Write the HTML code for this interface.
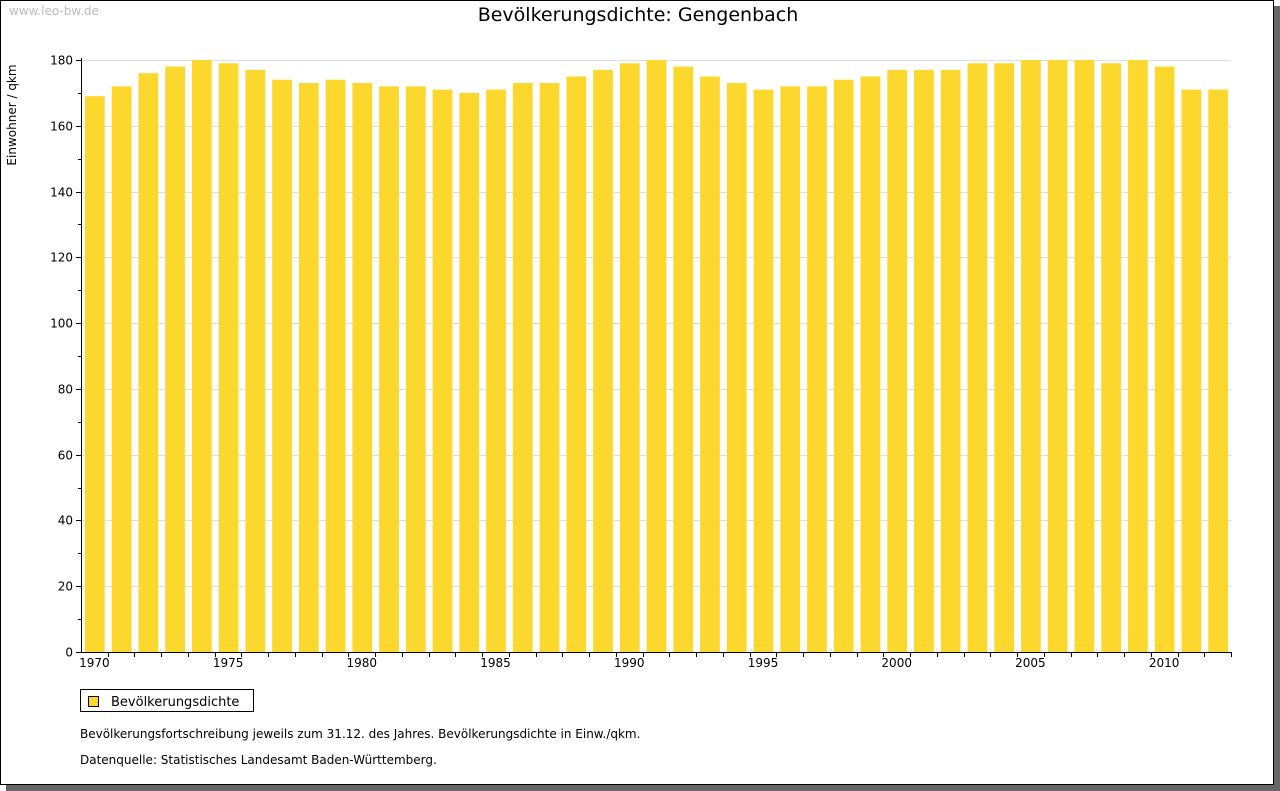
<!DOCTYPE html>
<html><head><meta charset="utf-8"><style>
body{margin:0;background:#fff;width:1280px;height:791px;overflow:hidden;font-family:"DejaVu Sans","Liberation Sans",sans-serif}
#frame{position:absolute;left:0;top:0;width:1272px;height:783px;border:1px solid #000;background:#fff;box-shadow:6px 6px 0 #666}
svg text{font-family:"DejaVu Sans","Liberation Sans",sans-serif}
</style></head><body>
<div id="frame">
<svg id="chart" width="1280" height="791" style="position:absolute;left:-1px;top:-1px">
<text x="9" y="15" font-size="12" fill="#bbb">www.leo-bw.de</text>
<text x="638" y="21" font-size="19" text-anchor="middle" fill="#000">Bevölkerungsdichte: Gengenbach</text>
<text transform="translate(16,115) rotate(-90)" font-size="12" text-anchor="middle">Einwohner / qkm</text>
<g id="grid"></g><g id="bars"></g><g id="axes"></g>
<g>
<rect x="80.5" y="689.5" width="173" height="22" fill="#fff" stroke="#000"/>
<rect x="88.5" y="696.5" width="10" height="10" fill="#fcd82e" stroke="#000"/>
<text x="111" y="706" font-size="13">Bevölkerungsdichte</text>
</g>
<text x="80" y="738" font-size="12">Bevölkerungsfortschreibung jeweils zum 31.12. des Jahres. Bevölkerungsdichte in Einw./qkm.</text>
<text x="80" y="764" font-size="12">Datenquelle: Statistisches Landesamt Baden-Württemberg.</text>
</svg></div>
<script>
const years=[1970,1971,1972,1973,1974,1975,1976,1977,1978,1979,1980,1981,1982,1983,1984,1985,1986,1987,1988,1989,1990,1991,1992,1993,1994,1995,1996,1997,1998,1999,2000,2001,2002,2003,2004,2005,2006,2007,2008,2009,2010,2011,2012];
const values=[169,172,176,178,180,179,177,174,173,174,173,172,172,171,170,171,173,173,175,177,179,180,178,175,173,171,172,172,174,175,177,177,177,179,179,180,180,180,179,180,178,171,171];
const yTicks=[0,20,40,60,80,100,120,140,160,180];
const xLabels=[1970,1975,1980,1985,1990,1995,2000,2005,2010];
const NS="http://www.w3.org/2000/svg";
const X0=81,X1=1231,Y0=652,Y1=60,YMAX=180;
const band=(X1-X0)/years.length;
const xs=i=>X0+i*band;
const ys=v=>Y0-(v/YMAX)*(Y0-Y1);
function mk(p,t,a){const e=document.createElementNS(NS,t);for(const k in a)e.setAttribute(k,a[k]);p.appendChild(e);return e;}
const grid=document.getElementById('grid'),bars=document.getElementById('bars'),axes=document.getElementById('axes');
yTicks.forEach(v=>{const y=Math.round(ys(v))+0.5;
 if(v>0){const g=mk(grid,'line',{x1:X0,x2:X1,y1:y,y2:y,stroke:'#ddd'});
 
 }
 mk(axes,'line',{x1:X0-5,x2:X0,y1:y,y2:y,stroke:'#000'});
 const m=Math.round(ys(v+10))+0.5; if(v<YMAX) mk(axes,'line',{x1:X0-3,x2:X0,y1:m,y2:m,stroke:'#000'});
 const t=mk(axes,'text',{x:X0-8,y:y+4,'font-size':12,'text-anchor':'end'});t.textContent=v;
 
 
});
values.forEach((v,i)=>{const r=mk(bars,'rect',{x:xs(i)+4,y:ys(v),width:band-7,height:Y0-ys(v),fill:'#fcd82e'});
 
 
 const tx=Math.round(xs(i+1))+0.5;mk(axes,'line',{x1:tx,x2:tx,y1:Y0,y2:Y0+5,stroke:'#000'});
});
mk(axes,'line',{x1:X0+0.5,x2:X0+0.5,y1:Y1-2,y2:Y0+1,stroke:'#000'});
mk(axes,'line',{x1:X0,x2:X1,y1:Y0+0.5,y2:Y0+0.5,stroke:'#000'});
xLabels.forEach(y=>{const i=years.indexOf(y);const t=mk(axes,'text',{x:xs(i)+band/2,y:Y0+15,'font-size':12,'text-anchor':'middle'});t.textContent=y;
 
 });
</script>
</body></html>
